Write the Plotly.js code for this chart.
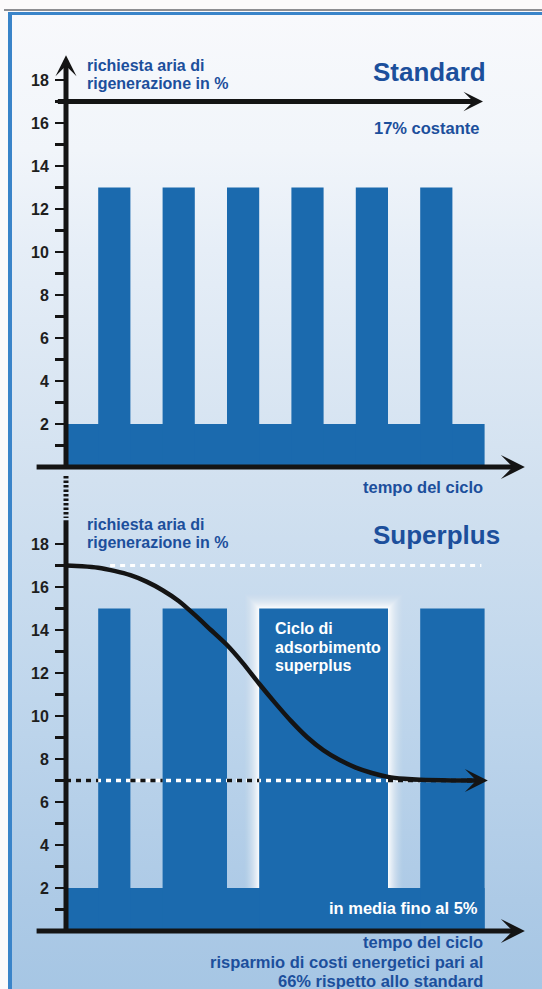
<!DOCTYPE html>
<html><head><meta charset="utf-8">
<script src="https://cdn.plot.ly/plotly-3.0.1.min.js"></script>
<style>
html,body{margin:0;padding:0;background:#fff;}
#wrap{position:relative;width:542px;height:989px;overflow:hidden;background:#fcfafb;}
#bg{position:absolute;left:12px;top:15px;right:0;bottom:0;background:linear-gradient(180deg,#f8f9fc 0px,#f1f5fa 135px,#e6eef7 235px,#d2e1f0 465px,#bfd6ec 685px,#adcae6 885px,#a6c6e4 974px);}
#gray{position:absolute;left:4px;right:0;top:9px;height:2px;background:#8e8e92;}
#blueTop{position:absolute;left:8px;right:0;top:12px;height:3px;background:#3a84c9;}
#blueLeft{position:absolute;left:8px;top:12px;width:4px;bottom:0;background:#3a84c9;}
#chart{position:absolute;left:0;top:0;width:542px;height:989px;}
</style></head>
<body><div id="wrap"><div id="bg"></div><div id="gray"></div><div id="blueTop"></div><div id="blueLeft"></div><div id="chart"></div></div>
<script>
// ---------- data ----------
const yTicks = [2, 4, 6, 8, 10, 12, 14, 16, 18];
const yTickLabels = ['2', '4', '6', '8', '10', '12', '14', '16', '18'];
const yMinorTicks = [1, 3, 5, 7, 9, 11, 13, 15, 17];
const cycleEnd = 13;
const baseLevel = 2;
// Standard
const stdPeakStart = [1, 3, 5, 7, 9, 11];
const stdPeakEnd = [2, 4, 6, 8, 10, 12];
const stdPeakLevel = 13;
const stdConstant = 17;
// Superplus
const spPeakStart = [1, 3, 6, 11];
const spPeakEnd = [2, 5, 10, 13];
const spPeakLevel = 15;
const spStartLevel = 17;
const spAvgLevel = 7;
const spGlowBar = 2; // index of the highlighted adsorption cycle
const curveX = [0, 0.5, 1, 1.5, 2, 2.5, 3, 3.5, 4, 4.5, 5, 5.5, 6, 6.5, 7, 7.5, 8, 8.5, 9, 9.5, 10, 10.5, 11, 12, 12.6];
const curveY = [17, 16.97, 16.9, 16.75, 16.55, 16.25, 15.85, 15.35, 14.7, 14.0, 13.3, 12.45, 11.5, 10.6, 9.75, 9.0, 8.4, 7.95, 7.6, 7.35, 7.17, 7.08, 7.03, 7.0, 7.0];

// ---------- styling / geometry ----------
const FONT = 'Liberation Sans, Arial, sans-serif';
const BAR = '#1b6aae';
const BLUE_TXT = '#1c4f9c';
const INK = '#141414';
const W = 542, H = 989, ML = 66, MR = 16;
const pxPerX = 32.2, pxPerY = 21.5;
const xMax = (W - ML - MR) / pxPerX;
const topZeroPx = 467, botZeroPx = 931;
const topYMax = 19.3, botYMax = 19.2;
const dom = (zeroPx, ymax) => [1 - zeroPx / H, 1 - (zeroPx - ymax * pxPerY) / H];

function bars(starts, ends, level, xa, ya) {
  return {type: 'bar', x: starts.map((s, i) => (s + ends[i]) / 2), y: starts.map(() => level),
    width: starts.map((s, i) => ends[i] - s), marker: {color: BAR, line: {width: 0}},
    xaxis: xa, yaxis: ya, hoverinfo: 'skip', showlegend: false};
}
function hline(x0, x1, y, color, width, dash, xa, ya) {
  return {type: 'scatter', mode: 'lines', x: [x0, x1], y: [y, y], line: {color, width, dash},
    xaxis: xa, yaxis: ya, hoverinfo: 'skip', showlegend: false};
}

const traces = [];
// Standard panel
traces.push(bars([0], [cycleEnd], baseLevel, 'x', 'y'));
traces.push(bars(stdPeakStart, stdPeakEnd, stdPeakLevel, 'x', 'y'));
// Superplus panel
traces.push(bars([0], [cycleEnd], baseLevel, 'x2', 'y2'));
traces.push(bars(spPeakStart, spPeakEnd, spPeakLevel, 'x2', 'y2'));
// dotted reference lines
traces.push(hline(1.37, 12.9, spStartLevel, '#ffffff', 3, '5px,5px', 'x2', 'y2'));
traces.push(hline(0, cycleEnd, spAvgLevel, '#ffffff', 3.5, '5px,5px', 'x2', 'y2'));
const gaps = [[0, spPeakStart[0]]];
for (let i = 0; i < spPeakStart.length - 1; i++) gaps.push([spPeakEnd[i], spPeakStart[i + 1]]);
gaps.forEach(g => traces.push(hline(g[0], g[1], spAvgLevel, INK, 3.5, '5px,5px', 'x2', 'y2')));
// curve
traces.push({type: 'scatter', mode: 'lines', x: curveX, y: curveY, line: {color: INK, width: 4.5, shape: 'spline', smoothing: 0.6},
  xaxis: 'x2', yaxis: 'y2', hoverinfo: 'skip', showlegend: false});

// soft white glow around the highlighted bar (stacked translucent rects)
const shapes = [];
const GLOW = 16;
const glowA = d => d >= GLOW ? 0 : 0.96 * Math.pow(1 - d / GLOW, 1.5);
for (let k = GLOW; k >= 1; k--) {
  const aIn = glowA(k - 0.5), aOut = glowA(k + 0.5);
  const op = 1 - (1 - aIn) / (1 - aOut);
  shapes.push({type: 'rect', layer: 'below', xref: 'x2', yref: 'y2',
    x0: spPeakStart[spGlowBar] - k / pxPerX, x1: spPeakEnd[spGlowBar] + k / pxPerX,
    y0: 0, y1: spPeakLevel + k / pxPerY, fillcolor: '#ffffff', opacity: op, line: {width: 0}});
}
// dotted connector between the two y axes
shapes.push({type: 'line', xref: 'paper', yref: 'paper', x0: 0, x1: 0, y0: 1 - 476 / H, y1: 1 - 518 / H,
  line: {color: INK, width: 5, dash: '2.5px,2px'}});

function arrow(xa, ya, x, y, axv, ayv, width, head, size) {
  return {xref: xa, yref: ya, axref: xa, ayref: ya, x, y, ax: axv, ay: ayv, text: '', showarrow: true,
    arrowhead: head, arrowsize: size, arrowwidth: width, arrowcolor: INK, standoff: 0, startstandoff: 0};
}
function txt(text, xpx, ypx, size, color, anchor) {
  return {xref: 'paper', yref: 'paper', x: (xpx - ML) / (W - ML - MR), y: 1 - ypx / H, text, showarrow: false,
    xanchor: anchor || 'left', yanchor: 'middle', font: {family: FONT, size, color, weight: 'bold'}};
}

const annotations = [
  // axes
  arrow('x', 'y', 0, 19.15, 0, -0.05, 5, 3, 0.7),
  arrow('x', 'y', 14.25, 0, -0.96, 0, 5, 3, 0.8),
  arrow('x', 'y', 12.95, stdConstant, -0.3, stdConstant, 5, 3, 0.65),
  arrow('x2', 'y2', 0, 19.1, 0, -0.05, 5, 0, 1),
  arrow('x2', 'y2', 14.25, 0, -0.96, 0, 5, 3, 0.8),
  arrow('x2', 'y2', 13.1, spAvgLevel, 12.4, spAvgLevel, 4.5, 3, 0.85),
  // texts
  txt('richiesta aria di', 85, 65, 16, BLUE_TXT),
  txt('rigenerazione in %', 85, 83.5, 16, BLUE_TXT),
  txt('Standard', 371, 72, 26, BLUE_TXT),
  txt('17% costante', 372, 128, 16.5, BLUE_TXT),
  txt('tempo del ciclo', 485, 487, 16.5, BLUE_TXT, 'right'),
  txt('richiesta aria di', 85, 524, 16, BLUE_TXT),
  txt('rigenerazione in %', 85, 542.5, 16, BLUE_TXT),
  txt('Superplus', 371, 535, 26, BLUE_TXT),
  txt('Ciclo di', 273, 628.5, 16, '#ffffff'),
  txt('adsorbimento', 273, 647, 16, '#ffffff'),
  txt('superplus', 273, 665.5, 16, '#ffffff'),
  txt('in media fino al 5%', 480, 908, 16.5, '#ffffff', 'right'),
  txt('tempo del ciclo', 485, 942, 16.5, BLUE_TXT, 'right'),
  txt('risparmio di costi energetici pari al', 485, 962, 16.5, BLUE_TXT, 'right'),
  txt('66% rispetto allo standard', 485, 981, 16.5, BLUE_TXT, 'right')
];

const yCommon = {tickmode: 'array', tickvals: yTicks, ticktext: yTickLabels, ticks: 'outside', ticklen: 10, tickwidth: 2.5,
  tickcolor: INK, showline: false, showgrid: false, zeroline: false, ticklabelstandoff: 3,
  tickfont: {family: FONT, size: 16, color: '#1e1e1e', weight: 'bold'},
  minor: {tickmode: 'array', tickvals: yMinorTicks, ticks: 'outside', ticklen: 10, tickwidth: 2.5, tickcolor: INK, showgrid: false},
  fixedrange: true};
const xCommon = {range: [0, xMax], visible: false, showgrid: false, zeroline: false, fixedrange: true};

const layout = {
  width: W, height: H, margin: {l: ML, r: MR, t: 0, b: 0},
  paper_bgcolor: 'rgba(0,0,0,0)', plot_bgcolor: 'rgba(0,0,0,0)',
  showlegend: false, barmode: 'overlay',
  font: {family: FONT},
  xaxis: Object.assign({}, xCommon, {anchor: 'y'}),
  yaxis: Object.assign({}, yCommon, {domain: dom(topZeroPx, topYMax), range: [0, topYMax], anchor: 'x'}),
  xaxis2: Object.assign({}, xCommon, {anchor: 'y2'}),
  yaxis2: Object.assign({}, yCommon, {domain: dom(botZeroPx, botYMax), range: [0, botYMax], anchor: 'x2'}),
  shapes, annotations
};
Plotly.newPlot('chart', traces, layout, {staticPlot: true, displayModeBar: false});
</script></body></html>
